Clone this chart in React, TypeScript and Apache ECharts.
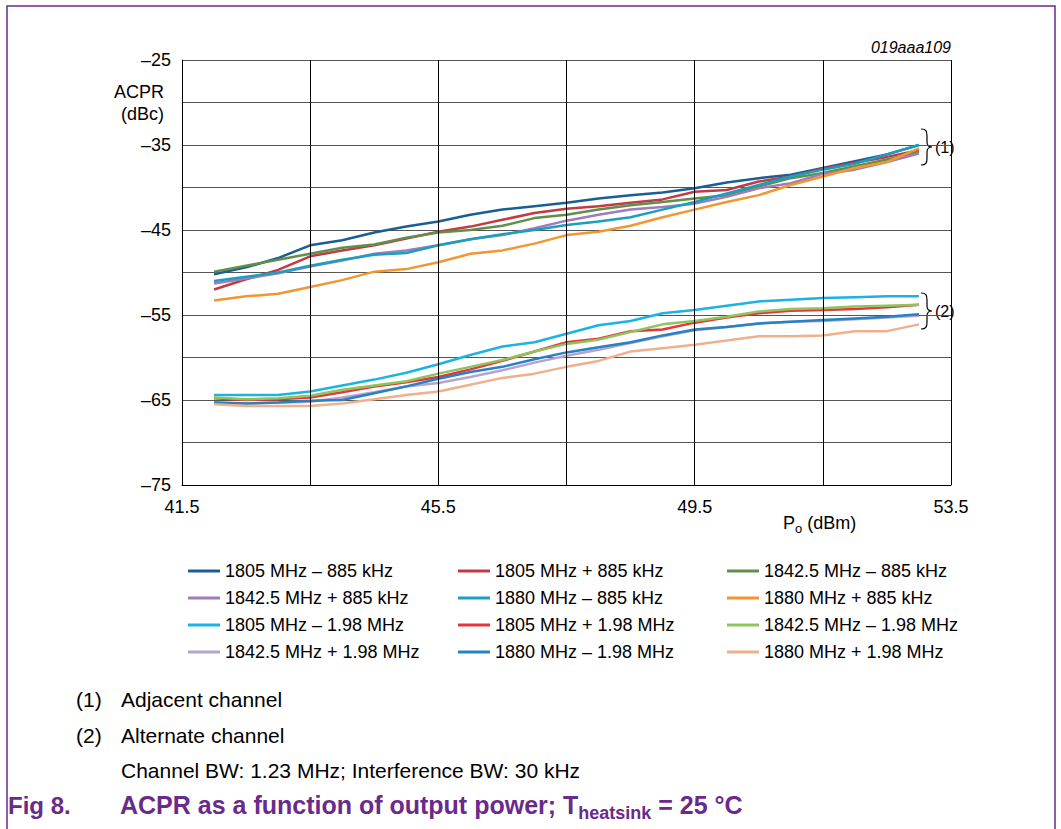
import React, { useEffect, useRef } from "react";
import * as echarts from "echarts";

const power = [42, 42.5, 43, 43.5, 44, 44.5, 45, 45.5, 46, 46.5, 47, 47.5, 48, 48.5, 49, 49.5, 50, 50.5, 51, 51.5, 52, 52.5, 53];

const seriesNames = [
  "1805 MHz – 885 kHz",
  "1805 MHz + 885 kHz",
  "1842.5 MHz – 885 kHz",
  "1842.5 MHz + 885 kHz",
  "1880 MHz – 885 kHz",
  "1880 MHz + 885 kHz",
  "1805 MHz – 1.98 MHz",
  "1805 MHz + 1.98 MHz",
  "1842.5 MHz – 1.98 MHz",
  "1842.5 MHz + 1.98 MHz",
  "1880 MHz – 1.98 MHz",
  "1880 MHz + 1.98 MHz",
];

const seriesColors = [
  "#1b5e96", "#c23a44", "#5f8f4a",
  "#a07cbc", "#1aa0bf", "#f29630",
  "#1ab3e4", "#e8353c", "#8dc45b",
  "#b7a3cf", "#2682c4", "#efb08c",
];

const adj1805Minus = [-50.2, -49.4, -48.3, -46.8, -46.2, -45.3, -44.6, -44.0, -43.2, -42.6, -42.2, -41.8, -41.3, -40.9, -40.6, -40.1, -39.4, -38.9, -38.5, -37.7, -36.9, -36.1, -35.0];
const adj1805Plus = [-52.0, -50.8, -49.7, -48.1, -47.4, -46.8, -46.0, -45.2, -44.6, -43.8, -43.0, -42.5, -42.2, -41.8, -41.4, -40.5, -40.3, -39.3, -38.7, -37.8, -37.1, -36.4, -35.6];
const adj1842Minus = [-49.9, -49.2, -48.5, -47.8, -47.1, -46.7, -45.9, -45.3, -45.0, -44.5, -43.6, -43.2, -42.6, -42.1, -41.7, -41.3, -40.9, -39.9, -38.9, -38.3, -37.5, -36.7, -35.8];
const adj1842Plus = [-51.3, -50.7, -50.1, -49.3, -48.6, -47.8, -47.4, -46.8, -46.1, -45.6, -44.8, -43.9, -43.2, -42.6, -42.3, -41.9, -41.1, -40.1, -39.5, -38.4, -37.9, -37.0, -36.0];
const adj1880Minus = [-51.0, -50.5, -50.0, -49.2, -48.5, -47.9, -47.7, -46.8, -46.1, -45.5, -45.0, -44.4, -44.0, -43.5, -42.6, -41.7, -40.7, -39.7, -38.7, -37.9, -37.2, -36.1, -35.0];
const adj1880Plus = [-53.3, -52.8, -52.5, -51.7, -50.9, -49.9, -49.6, -48.8, -47.8, -47.4, -46.6, -45.6, -45.2, -44.5, -43.5, -42.6, -41.7, -40.9, -39.7, -38.7, -37.7, -37.0, -35.4];

const alt1805Minus = [-64.4, -64.4, -64.4, -64.0, -63.3, -62.6, -61.8, -60.8, -59.7, -58.7, -58.2, -57.2, -56.2, -55.7, -54.8, -54.4, -53.9, -53.4, -53.2, -53.0, -52.9, -52.8, -52.8];
const alt1805Plus = [-64.8, -65.0, -64.9, -64.7, -64.1, -63.4, -62.9, -62.3, -61.4, -60.4, -59.3, -58.2, -57.8, -56.9, -56.7, -55.9, -55.3, -54.8, -54.5, -54.4, -54.3, -54.1, -53.8];
const alt1842Minus = [-64.7, -64.9, -64.8, -64.5, -63.8, -63.3, -62.8, -61.9, -61.1, -60.3, -59.3, -58.4, -57.9, -57.0, -56.1, -55.7, -55.2, -54.6, -54.3, -54.2, -54.0, -53.9, -53.8];
const alt1842Plus = [-65.3, -65.4, -65.3, -65.2, -64.7, -64.1, -63.4, -63.0, -62.3, -61.5, -60.6, -59.8, -59.1, -58.3, -57.5, -56.8, -56.4, -56.0, -55.8, -55.7, -55.5, -55.3, -55.1];
const alt1880Minus = [-65.3, -65.4, -65.3, -65.1, -65.0, -64.2, -63.4, -62.5, -61.7, -61.1, -60.2, -59.4, -58.8, -58.2, -57.4, -56.7, -56.4, -56.0, -55.8, -55.6, -55.4, -55.2, -54.9];
const alt1880Plus = [-65.5, -65.7, -65.7, -65.7, -65.4, -64.9, -64.4, -64.0, -63.2, -62.4, -61.9, -61.1, -60.4, -59.3, -58.9, -58.5, -58.0, -57.5, -57.5, -57.4, -56.9, -56.9, -56.1];

const seriesValues = [
  adj1805Minus, adj1805Plus, adj1842Minus,
  adj1842Plus, adj1880Minus, adj1880Plus,
  alt1805Minus, alt1805Plus, alt1842Minus,
  alt1842Plus, alt1880Minus, alt1880Plus,
];

const xLabelValues = [41.5, 45.5, 49.5, 53.5];
const xGridValues = [43.5, 45.5, 47.5, 49.5, 51.5, 53.5];

const FONT = "'Liberation Sans', Arial, Helvetica, sans-serif";
const PURPLE = "#6a2a8c";

try {
  echarts.graphic.registerShape(
    "brace",
    echarts.graphic.extendPath(
      "M0,0 C5,0 6,2 6,7 L6,13 C6,16 7,18 11,18 C7,18 6,20 6,23 L6,29 C6,34 5,36 0,36",
      {}
    )
  );
} catch (e) {}

export default function App() {
  const ref = useRef<HTMLDivElement>(null);

  useEffect(() => {
    if (!ref.current) return;
    const chart = echarts.init(ref.current, undefined, { renderer: "svg" });

    const series: any[] = seriesNames.map((name, i) => ({
      name,
      type: "line",
      showSymbol: false,
      symbol: "none",
      color: seriesColors[i],
      lineStyle: { width: 2.5, color: seriesColors[i] },
      data: power.map((p, j) => [p, seriesValues[i][j]]),
      z: 3,
    }));

    series.push({
      name: "grid",
      type: "line",
      data: [],
      z: 1,
      silent: true,
      markLine: {
        silent: true,
        symbol: ["none", "none"],
        label: { show: false },
        lineStyle: { color: "#000", width: 1, type: "solid" },
        data: xGridValues.map((v) => ({ xAxis: v })),
      },
    });

    const legendLefts = [183, 453, 722];
    const legends = [0, 1, 2].map((c) => ({
      orient: "vertical",
      left: legendLefts[c],
      top: 556,
      itemWidth: 32,
      itemHeight: 3,
      itemGap: 7,
      icon: "rect",
      selectedMode: false,
      data: seriesNames.filter((_, i) => i % 3 === c),
      textStyle: { fontSize: 18, color: "#000", fontFamily: FONT, lineHeight: 20 },
    }));

    const txt = (text: string, x: number, y: number, extra: any = {}) => ({
      type: "text",
      x,
      y,
      silent: true,
      style: {
        text,
        fill: "#000",
        font: `18px ${FONT}`,
        textAlign: "left",
        textVerticalAlign: "middle",
        ...extra,
      },
    });

    const option: any = {
      animation: false,
      backgroundColor: "#fff",
      grid: { left: 182, top: 60, width: 769, height: 425, containLabel: false },
      xAxis: {
        type: "value",
        min: 41.5,
        max: 53.5,
        axisLine: { show: true, lineStyle: { color: "#000", width: 1 } },
        axisTick: { show: false },
        splitLine: { show: false },
        axisLabel: {
          customValues: xLabelValues,
          margin: 13,
          color: "#000",
          fontSize: 18,
          fontFamily: FONT,
          formatter: (v: number) => v.toFixed(1),
        },
      },
      yAxis: {
        type: "value",
        min: -75,
        max: -25,
        interval: 5,
        axisLine: { show: true, lineStyle: { color: "#000", width: 1 } },
        axisTick: { show: false },
        splitLine: { show: true, lineStyle: { color: "#555", width: 1.2 } },
        axisLabel: {
          margin: 11,
          color: "#000",
          fontSize: 18,
          fontFamily: FONT,
          formatter: (v: number) => ((v + 25) % 10 === 0 ? String(v).replace("-", "–") : ""),
        },
      },
      legend: legends,
      series,
      graphic: [
        {
          type: "rect",
          silent: true,
          shape: { x: 7, y: 6, width: 1048, height: 900 },
          style: { fill: "none", stroke: PURPLE, lineWidth: 1.5 },
          z: 0,
        },
        txt("ACPR", 164, 92, { textAlign: "right" }),
        txt("(dBc)", 164, 114, { textAlign: "right" }),
        txt("019aaa109", 951, 47, { textAlign: "right", font: `italic 16px ${FONT}` }),
        {
          type: "text",
          x: 783,
          y: 523,
          silent: true,
          style: {
            text: "{a|P}{s|o}{a| (dBm)}",
            textAlign: "left",
            textVerticalAlign: "middle",
            rich: {
              a: { fontSize: 18, fontFamily: FONT, fill: "#000", lineHeight: 20 },
              s: { fontSize: 13, fontFamily: FONT, fill: "#000", lineHeight: 14, padding: [10, 0, 0, 0] },
            },
          },
        },
        {
          type: "brace",
          x: 921,
          y: 129,
          silent: true,
          style: { fill: "none", stroke: "#000", lineWidth: 1.2 },
        },
        txt("(1)", 935, 147, { font: `16px ${FONT}` }),
        {
          type: "brace",
          x: 921,
          y: 293,
          silent: true,
          style: { fill: "none", stroke: "#000", lineWidth: 1.2 },
        },
        txt("(2)", 935, 311, { font: `16px ${FONT}` }),
        txt("(1)", 76, 699, { font: `21px ${FONT}` }),
        txt("Adjacent channel", 121, 699, { font: `21px ${FONT}` }),
        txt("(2)", 76, 735, { font: `21px ${FONT}` }),
        txt("Alternate channel", 121, 735, { font: `21px ${FONT}` }),
        txt("Channel BW: 1.23 MHz; Interference BW: 30 kHz", 121, 770, { font: `21px ${FONT}` }),
        txt("Fig 8.", 8, 805, { font: `bold 24px ${FONT}`, fill: PURPLE }),
        {
          type: "text",
          x: 120,
          y: 805,
          silent: true,
          style: {
            text: "{a|ACPR as a function of output power; T}{s|heatsink}{a| = 25 °C}",
            textAlign: "left",
            textVerticalAlign: "middle",
            rich: {
              a: { fontSize: 25, fontWeight: "bold", fontFamily: FONT, fill: PURPLE, lineHeight: 26 },
              s: { fontSize: 18, fontWeight: "bold", fontFamily: FONT, fill: PURPLE, lineHeight: 18, padding: [15, 0, 0, 0] },
            },
          },
        },
      ],
    };

    chart.setOption(option);
    return () => chart.dispose();
  }, []);

  return (
    <div
      ref={ref}
      style={{ position: "fixed", left: 0, top: 0, width: 1061, height: 829, background: "#fff" }}
    />
  );
}
